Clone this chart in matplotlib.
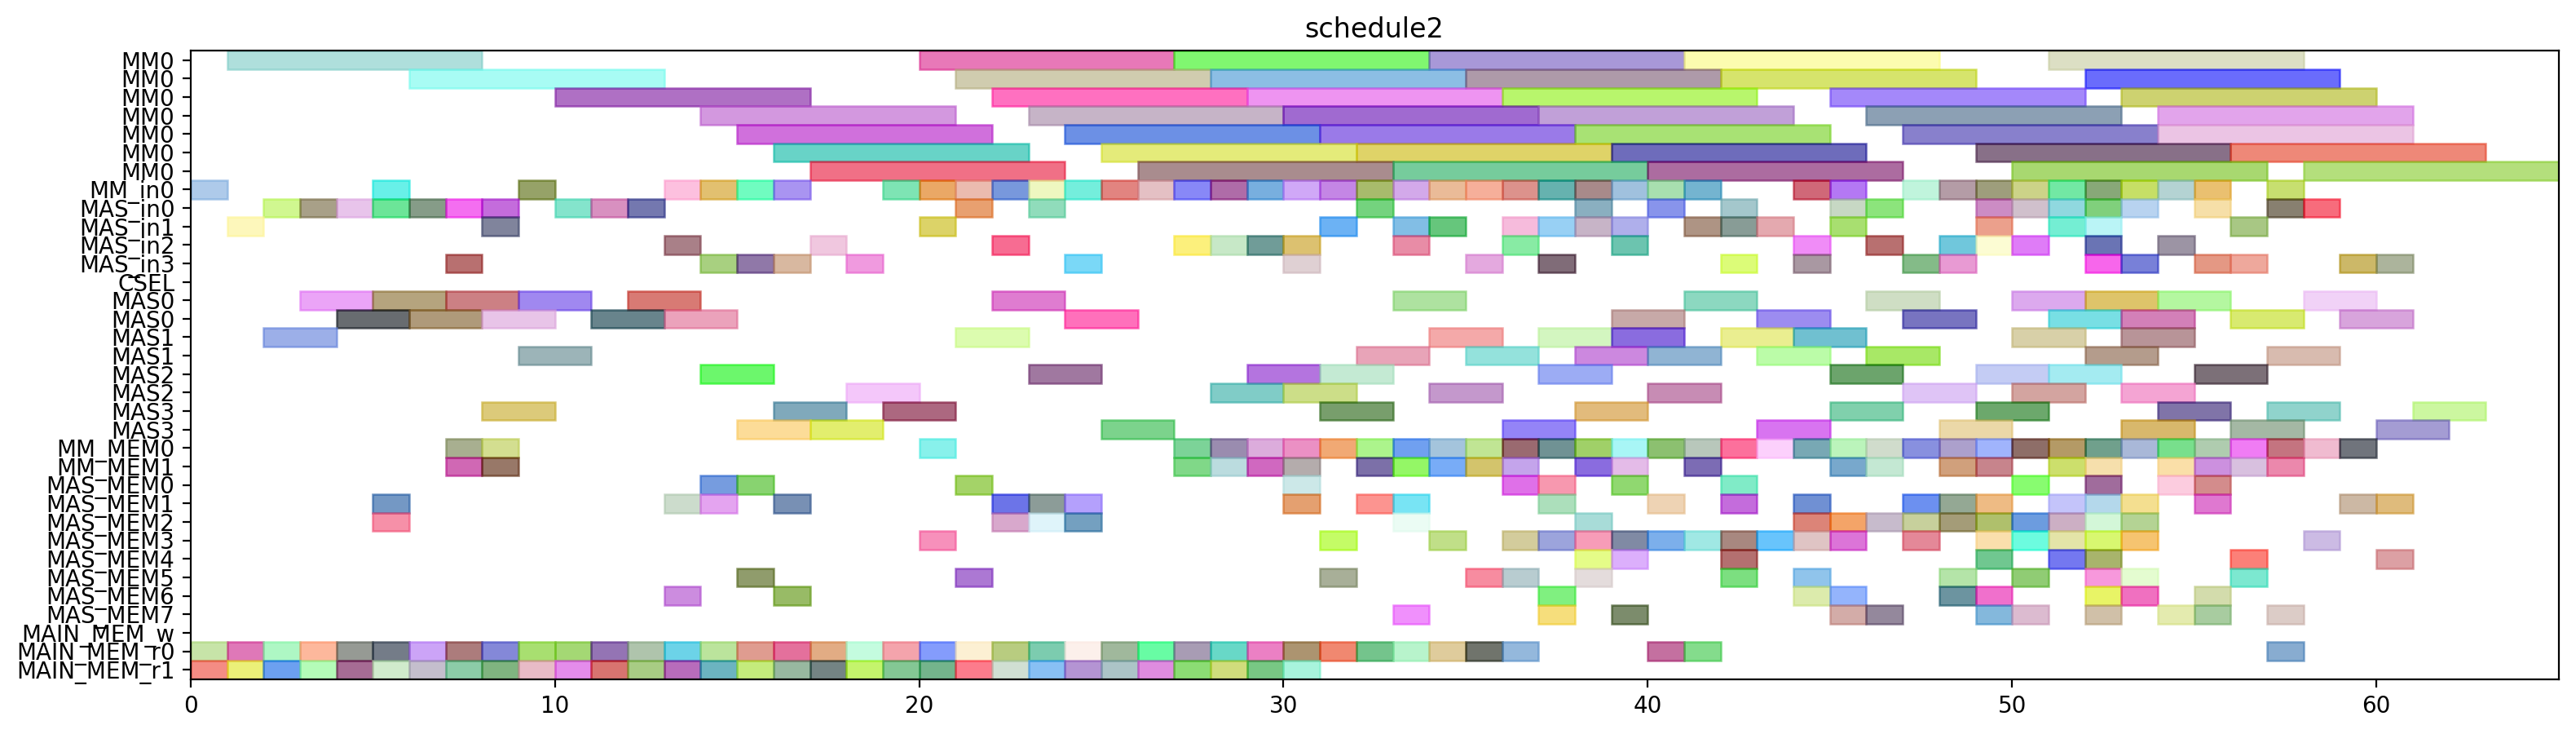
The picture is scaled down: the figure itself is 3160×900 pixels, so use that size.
import matplotlib
matplotlib.use("Agg")
import matplotlib.pyplot as plt
from matplotlib.colors import to_rgb

# ---- data: (start, colour) per row; colours are the blended look on white ----
MM0 = [
    [(1, '#b0e0dc'), (20, '#e878b8'), (27, '#80f870'), (34, '#a898d8'), (41, '#fcfcb0'), (51, '#dcdfc4')],
    [(6, '#a8fcf4'), (21, '#d0ccb0'), (28, '#8cbee4'), (35, '#ae9aaa'), (42, '#d6e46c'), (52, '#6a6cfc')],
    [(10, '#b070c4'), (22, '#ff70c0'), (29, '#ee94f2'), (36, '#b8f66c'), (45, '#a488fa'), (53, '#cdd270')],
    [(14, '#d498e0'), (23, '#c6b4c8'), (30, '#a06ad0'), (37, '#c2a0d8'), (46, '#8ca0b4'), (54, '#e2a4ec')],
    [(15, '#d070dc'), (24, '#6c90e6'), (31, '#9a7ae8'), (38, '#a8e274'), (47, '#8880cc'), (54, '#ecc4e4')],
    [(16, '#68d4c8'), (25, '#e4ec7a'), (32, '#e0d468'), (39, '#6e6cbc'), (49, '#887088'), (56, '#ee8878')],
    [(17, '#f07086'), (26, '#aa8c8e'), (33, '#76cc9c'), (40, '#ac6ca0'), (50, '#a8d870'), (58, '#b4e07c')],
]
MM_IN0 = [(0, '#aecbea'), (5, '#68f0e8'), (9, '#96a268'), (13, '#fec0e0'), (14, '#e2c070'), (15, '#70fcc0'),
          (16, '#a994f2'), (19, '#7ee4b4'), (20, '#eaa866'), (21, '#ecbcb0'), (22, '#7898dc'), (23, '#eef8c0'),
          (24, '#74eedc'), (25, '#e28480'), (26, '#e4c0c4'), (27, '#8888f8'), (28, '#b06ca8'), (29, '#78b0e0'),
          (30, '#d0a8f8'), (31, '#c486e6'), (32, '#a8bc6c'), (33, '#d4aaea'), (34, '#eabc98'), (35, '#f6b09a'),
          (36, '#dc928c'), (37, '#62b2b0'), (38, '#a88a8a'), (39, '#a0c2de'), (40, '#a8e0b0'), (41, '#74b4d0'),
          (44, '#d06878'), (45, '#b478f4'), (47, '#c0f4dc'), (48, '#b49ca6'), (49, '#9e9e7c'), (50, '#ccd488'),
          (51, '#72e8a4'), (52, '#88a878'), (53, '#c6e060'), (54, '#b4d4d4'), (55, '#eac070'), (57, '#c8e070')]
MAS_IN0 = [(2, '#d0f890'), (3, '#a8a088'), (4, '#e8c4ec'), (5, '#6ce698'), (6, '#869c88'), (7, '#f46ef0'),
           (8, '#c46cdc'), (10, '#84e4cc'), (11, '#d890c0'), (12, '#7478b0'), (21, '#e8a070'), (23, '#90dcbc'),
           (32, '#74d47e'), (38, '#8ab0c0'), (40, '#8894ec'), (42, '#a4c8cc'), (45, '#c8d8c4'), (46, '#8ce47c'),
           (49, '#cc8cc4'), (50, '#d0c0cc'), (51, '#90d8e0'), (52, '#80d07c'), (53, '#b8d4f0'), (55, '#f6e0a8'),
           (57, '#888070'), (58, '#f86c7c')]
MAS_IN1 = [(1, '#fef8bc'), (8, '#80849c'), (20, '#dcd468'), (31, '#6cb2f4'), (33, '#82bee6'), (34, '#64c67c'),
           (36, '#f6bcdc'), (37, '#98d0f4'), (38, '#c8b4c8'), (39, '#b0b0ec'), (41, '#ae9484'), (42, '#889c96'),
           (43, '#e4aab0'), (45, '#a8e070'), (49, '#eca08c'), (51, '#74eed4'), (52, '#baf4f6'), (56, '#a8c884')]
MAS_IN2 = [(13, '#aa8088'), (17, '#f0c8e0'), (22, '#f86c92'), (27, '#fcf07c'), (28, '#c8e8c8'), (29, '#709c98'),
           (30, '#dcc270'), (33, '#e88ca6'), (36, '#88eca4'), (39, '#6cc4b0'), (44, '#f08cf8'), (46, '#b87070'),
           (48, '#70c8dc'), (49, '#fcfcd4'), (50, '#e07cf8'), (52, '#6a74b4'), (54, '#9c94a4')]
MAS_IN3 = [(7, '#b87070'), (14, '#a8d080'), (15, '#9078a8'), (16, '#d8b8a0'), (18, '#f09ae0'), (24, '#7ad8f8'),
           (30, '#e0d0d4'), (35, '#e4aae0'), (37, '#806c78'), (42, '#dcfc78'), (44, '#aa98a2'), (47, '#84bc88'),
           (48, '#e89ad4'), (52, '#f860ec'), (53, '#7880d8'), (55, '#e49884'), (56, '#eea89c'), (59, '#ccb868'),
           (60, '#acb49c')]
CSEL = []
MAS0_A = [(3, '#eca4f8'), (5, '#b6a47e'), (7, '#cc8084'), (9, '#a088f0'), (12, '#d87a74'), (22, '#e07cd0'),
          (33, '#aee2a0'), (41, '#8cd8c0'), (46, '#cfdec4'), (50, '#dcaaee'), (52, '#dec46a'), (54, '#b4f8a0'),
          (58, '#f2d2f8')]
MAS0_B = [(4, '#686c70'), (6, '#b09a7a'), (8, '#e8c4e8'), (11, '#68848c'), (13, '#eca2bc'), (24, '#ff70bc'),
          (39, '#c8aaa8'), (43, '#9c8cf0'), (47, '#7874c0'), (51, '#78e0e4'), (53, '#d480b8'), (56, '#d8ea70'),
          (59, '#d8a4dc')]
MAS1_A = [(2, '#9cb0e8'), (21, '#dcfcb0'), (34, '#f4aaaa'), (37, '#d4f6c0'), (39, '#8a6ce0'), (42, '#eaee90'),
          (44, '#70c0d0'), (50, '#d8d0a8'), (53, '#b89498')]
MAS1_B = [(9, '#9cb4b8'), (32, '#e8a4b8'), (35, '#94e2dc'), (38, '#cc88e0'), (40, '#90b4d4'), (43, '#bcfca8'),
          (46, '#a8e864'), (52, '#b49c8c'), (57, '#d8bcb0')]
MAS2_A = [(14, '#6cf86c'), (23, '#a078a0'), (29, '#b474e0'), (31, '#c4ead4'), (37, '#9cacf4'), (45, '#6ca46c'),
          (49, '#c4ccf4'), (51, '#a4ecf2'), (55, '#7c7078')]
MAS2_B = [(18, '#f4c8fa'), (28, '#80ccc8'), (30, '#ccde88'), (34, '#c498cc'), (40, '#c88cb4'), (47, '#e0c4f6'),
          (50, '#d4a4a0'), (53, '#f4a4d4')]
MAS3_A = [(8, '#dccb7a'), (16, '#80aabc'), (19, '#ac6880'), (31, '#789e6c'), (38, '#e2bc7c'), (45, '#80d0ac'),
          (49, '#6ca86c'), (54, '#8074a8'), (57, '#90d4cc'), (61, '#ccf8a0')]
MAS3_B = [(15, '#fcdc98'), (17, '#e2ee6e'), (25, '#7cd48c'), (36, '#9484f8'), (43, '#d874f0'), (48, '#ecd8a8'),
          (53, '#d8b86c'), (56, '#a4b8a4'), (60, '#a49cd4')]
MM_MEM0 = [(7, '#a8b090'), (8, '#d4de90'), (20, '#88f2ec'), (27, '#7cd498'), (28, '#9a8cb0'), (29, '#dcacdc'),
           (30, '#ec90c4'), (31, '#f2aa74'), (32, '#acf48c'), (33, '#70a0f0'), (34, '#a4c4dc'), (35, '#c0e694'),
           (36, '#9a6a70'), (37, '#709294'), (38, '#a0d068'), (39, '#a8f6f6'), (40, '#8cc070'), (41, '#b8c8bc'),
           (42, '#fc709c'), (43, '#fcd0fc'), (44, '#78a8b4'), (45, '#bcf4bc'), (46, '#d0dccc'), (47, '#8890e0'),
           (48, '#aca0cc'), (49, '#a0b4fc'), (50, '#8e6e68'), (51, '#b49a64'), (52, '#70a08c'), (53, '#aab8d8'),
           (54, '#78e08c'), (55, '#b0ccb0'), (56, '#f07cf4'), (57, '#c47480'), (58, '#f0bcd0'), (59, '#70747c')]
MM_MEM1 = [(7, '#d068b4'), (8, '#987868'), (27, '#80d888'), (28, '#bcdce0'), (29, '#d068c0'), (30, '#b4acac'),
           (32, '#7c70a8'), (33, '#94f864'), (34, '#78acf8'), (35, '#d4c46c'), (36, '#c4a4ec'), (38, '#8a6ce0'),
           (39, '#e4bce8'), (41, '#7c6cb4'), (45, '#78a8cc'), (46, '#c4e8d4'), (48, '#d0a07c'), (49, '#c8848c'),
           (51, '#cce06c'), (52, '#f6e0ac'), (54, '#fae0a8'), (55, '#cc90e0'), (56, '#d8c0e0'), (57, '#ec88ac')]
MAS_MEM0 = [(14, '#769ce0'), (15, '#88d470'), (21, '#a4d468'), (30, '#cce8e8'), (36, '#e070e8'), (37, '#f898b0'),
            (39, '#90d870'), (42, '#80ecc8'), (50, '#88fc70'), (52, '#a06c9c'), (54, '#fccce0'), (55, '#d48c8c')]
MAS_MEM1 = [(5, '#7498c4'), (13, '#ccdccc'), (14, '#e4a4f0'), (16, '#7890b4'), (22, '#6c74e8'), (23, '#8c9c98'),
            (24, '#b4a0fc'), (30, '#e4a070'), (32, '#fc9490'), (33, '#78e4f4'), (37, '#acdfbc'), (40, '#eed4b4'),
            (42, '#c46cdc'), (44, '#7090d4'), (47, '#6c90f0'), (48, '#94a894'), (49, '#eebc84'), (51, '#c4c4fa'),
            (52, '#b4d8ec'), (53, '#f4e090'), (55, '#e078d0'), (59, '#ccb8a4'), (60, '#e0bc7c')]
MAS_MEM2 = [(5, '#f690a8'), (22, '#d8a8cc'), (23, '#e0f4fa'), (24, '#74a0c0'), (33, '#ecfcf4'), (38, '#a8dcd8'),
            (44, '#dc8478'), (45, '#f4a468'), (46, '#c8bccc'), (47, '#c8d09c'), (48, '#a49c78'), (49, '#b0c06c'),
            (50, '#6c9ce0'), (51, '#ccb0c4'), (52, '#d4f8d8'), (53, '#b4d494')]
MAS_MEM3 = [(20, '#f890bc'), (31, '#c4fc5c'), (34, '#c0e088'), (36, '#d4cc9c'), (37, '#9ca4dc'), (38, '#f89cb8'),
            (39, '#808aa4'), (40, '#7cb0ec'), (41, '#a0e8e4'), (42, '#a88880'), (43, '#68c4fc'), (44, '#e0c4c4'),
            (45, '#dc74d8'), (47, '#e48898'), (49, '#fae0ac'), (50, '#6cfce0'), (51, '#e4e4a8'), (52, '#d8f870'),
            (53, '#f6c470'), (58, '#ccbce4')]
MAS_MEM4 = [(38, '#e6fc88'), (39, '#dcb0fc'), (42, '#b47070'), (49, '#70c890'), (51, '#7478f0'), (52, '#a8b46c'),
            (56, '#fc8078'), (60, '#dca0a4')]
MAS_MEM5 = [(15, '#909c6c'), (21, '#ac78d4'), (31, '#a8b098'), (35, '#f88ca0'), (36, '#b8ccd0'), (38, '#e4dcdc'),
            (42, '#7ce080'), (44, '#90c4ec'), (48, '#b4e4a8'), (50, '#90cc74'), (52, '#f898dc'), (53, '#e4fcd0'),
            (56, '#7ce8d0')]
MAS_MEM6 = [(13, '#cc8ce0'), (16, '#98bc64'), (37, '#80f080'), (44, '#dcecac'), (45, '#94b4fc'), (48, '#6c94a0'),
            (49, '#f070cc'), (52, '#e8f460'), (53, '#f070c0'), (55, '#d4dcac')]
MAS_MEM7 = [(33, '#f090fc'), (37, '#f6de7c'), (39, '#7c8c6c'), (45, '#d4aca8'), (46, '#94889c'), (49, '#84b8dc'),
            (50, '#dcbcd0'), (52, '#d0c0a8'), (54, '#e4ecb0'), (55, '#a8cca0'), (57, '#dcccc8')]
MAIN_MEM_W = []
MAIN_MEM_R0 = [(0, '#c8e4a8'), (1, '#e078b8'), (2, '#aef8c4'), (3, '#feb89c'), (4, '#969a94'), (5, '#747c88'),
               (6, '#cca4f8'), (7, '#ac7c7c'), (8, '#8488d8'), (9, '#a8e070'), (10, '#a4d874'), (11, '#9474b4'),
               (12, '#b0c4ac'), (13, '#6cd4e8'), (14, '#bce49c'), (15, '#e09c90'), (16, '#e4709c'), (17, '#e2ac84'),
               (18, '#c4fce0'), (19, '#f4a4ac'), (20, '#849cfc'), (21, '#fcf0d4'), (22, '#b8cc80'), (23, '#7cccb0'),
               (24, '#fcf0ec'), (25, '#a0b89c'), (26, '#68fca4'), (27, '#a89cb4'), (28, '#68d8c8'), (29, '#ec80c4'),
               (30, '#ac9470'), (31, '#f08870'), (32, '#74c48c'), (33, '#b8f4cc'), (34, '#e0cc9c'), (35, '#70746c'),
               (36, '#94b8dc'), (40, '#c470a0'), (41, '#84dc8c'), (57, '#88acd0')]
MAIN_MEM_R1 = [(0, '#f48c84'), (1, '#ecf078'), (2, '#6ca0f0'), (3, '#b4fcb8'), (4, '#a66c94'), (5, '#d0eccc'),
               (6, '#c4bece'), (7, '#8ccca8'), (8, '#80b480'), (9, '#e8bcc8'), (10, '#e48cec'), (11, '#d87470'),
               (12, '#a8cc84'), (13, '#b86cbc'), (14, '#6cb4c0'), (15, '#c4ec7c'), (16, '#98b8a0'), (17, '#748484'),
               (18, '#c4f46c'), (19, '#84c894'), (20, '#74b48c'), (21, '#fc7c8c'), (22, '#d0e0d4'), (23, '#88c0f4'),
               (24, '#b494d4'), (25, '#acc4c8'), (26, '#e08ce0'), (27, '#8cdc74'), (28, '#d0dc7c'), (29, '#78c884'),
               (30, '#a8f4dc')]

# rows top to bottom: (label, tasks, duration)
ROWS = ([('MM0', r, 7) for r in MM0] + [
    ('MM_in0', MM_IN0, 1), ('MAS_in0', MAS_IN0, 1), ('MAS_in1', MAS_IN1, 1),
    ('MAS_in2', MAS_IN2, 1), ('MAS_in3', MAS_IN3, 1), ('CSEL', CSEL, 1),
    ('MAS0', MAS0_A, 2), ('MAS0', MAS0_B, 2), ('MAS1', MAS1_A, 2), ('MAS1', MAS1_B, 2),
    ('MAS2', MAS2_A, 2), ('MAS2', MAS2_B, 2), ('MAS3', MAS3_A, 2), ('MAS3', MAS3_B, 2),
    ('MM_MEM0', MM_MEM0, 1), ('MM_MEM1', MM_MEM1, 1),
    ('MAS_MEM0', MAS_MEM0, 1), ('MAS_MEM1', MAS_MEM1, 1), ('MAS_MEM2', MAS_MEM2, 1),
    ('MAS_MEM3', MAS_MEM3, 1), ('MAS_MEM4', MAS_MEM4, 1), ('MAS_MEM5', MAS_MEM5, 1),
    ('MAS_MEM6', MAS_MEM6, 1), ('MAS_MEM7', MAS_MEM7, 1),
    ('MAIN_MEM_w', MAIN_MEM_W, 1), ('MAIN_MEM_r0', MAIN_MEM_R0, 1), ('MAIN_MEM_r1', MAIN_MEM_R1, 1),
])

ALPHA = 0.6


def base_colour(hexcol):
    # undo the alpha blend on white so the drawn bar looks like the picture
    return tuple(min(1.0, max(0.0, (c - (1 - ALPHA)) / ALPHA)) for c in to_rgb(hexcol))


fig = plt.figure(figsize=(15.8, 4.5), dpi=200)
ax = fig.add_axes([0.074, 0.0748, 0.9192, 0.856])

for i, (label, tasks, dur) in enumerate(ROWS):
    if not tasks:
        continue
    starts = [s for s, _ in tasks]
    cols = [base_colour(c) for _, c in tasks]
    ax.barh([i] * len(tasks), [dur] * len(tasks), left=starts, height=1.0,
            color=cols, edgecolor=cols, alpha=ALPHA, linewidth=0.9)

ax.set_yticks(range(len(ROWS)))
ax.set_yticklabels([r[0] for r in ROWS])
ax.set_ylim(len(ROWS) - 0.5, -0.5)
ax.set_xlim(0, 65)
ax.set_title("schedule2")

fig.savefig("out.png", dpi=200)
